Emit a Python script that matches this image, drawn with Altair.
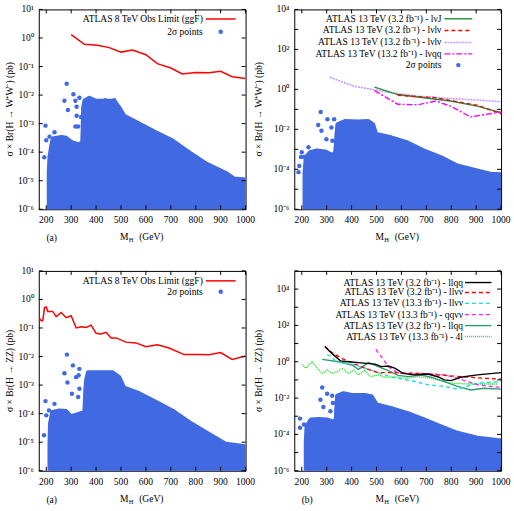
import altair as alt
import pandas as pd

# ---------------- data ----------------
# Panel (a) top: H -> WW, 8 TeV
ww8_limit_mh = [300, 353, 406, 453, 500, 546, 600, 646, 700, 746, 800, 853, 900, 946, 1000]
ww8_limit = [1.32, 0.60, 0.56, 0.46, 0.32, 0.38, 0.26, 0.126, 0.089, 0.055, 0.062, 0.060, 0.068, 0.044, 0.038]
ww8_env_mh = [210, 213, 220, 226, 260, 280, 300, 327, 344, 346, 348, 353, 373, 400, 433, 473, 493, 513, 573, 640, 706, 773, 840, 920, 953, 1000]
ww8_env = [1.9e-5, 6.9e-5, 1.7e-4, 3.0e-4, 3.4e-4, 3.2e-4, 2.3e-4, 1.9e-4, 2.1e-4, 5.8e-4, 3.7e-3, 6.3e-3, 8.1e-3, 6.3e-3, 6.3e-3, 6.3e-3, 3.7e-3, 1.9e-3, 1.0e-3, 5.0e-4, 2.6e-4, 1.0e-4, 4.1e-5, 1.9e-5, 1.2e-5, 1.1e-5]
ww8_pts_mh = [282, 273, 287, 309, 333, 317, 322, 322, 340, 328, 317, 357, 197, 233, 200, 213, 192, 437, 473]
ww8_pts = [2.5e-2, 6.3e-3, 3.0e-3, 1.07e-2, 8.1e-3, 6.3e-3, 3.9e-3, 1.9e-3, 1.7e-3, 7.9e-4, 7.9e-4, 4.5e-4, 8.5e-4, 5.0e-4, 2.6e-4, 3.5e-4, 6.6e-5, 6.6e-3, 6.6e-3]

# Panel top right: H -> WW, 13 TeV
ww13_env_mh = [211, 216, 233, 260, 293, 313, 333, 336, 339, 343, 373, 426, 466, 486, 499, 559, 625, 691, 758, 824, 904, 957, 1000]
ww13_env = [6.0e-5, 4.1e-4, 7.1e-4, 8.7e-4, 7.9e-4, 5.9e-4, 5.5e-4, 1.26e-3, 4.8e-3, 1.8e-2, 2.6e-2, 2.5e-2, 2.6e-2, 1.8e-2, 5.8e-3, 4.0e-3, 2.2e-3, 8.7e-4, 4.1e-4, 1.55e-4, 8.9e-5, 6.0e-5, 5.6e-5]
ww13_pts_mh = [276, 266, 279, 303, 319, 299, 323, 330, 200, 190, 209, 227, 197, 187]
ww13_pts = [7.4e-2, 1.66e-2, 8.5e-3, 3.2e-2, 1.23e-2, 3.2e-3, 2.7e-3, 3.2e-2, 7.1e-4, 1.45e-4, 4.1e-4, 1.26e-3, 4.1e-4, 7.2e-5]
lvJ_mh = [492, 585, 691, 797, 904, 1000]
lvJ = [1.29, 0.55, 0.38, 0.26, 0.145, 0.068]
lvlv32_mh = [585, 691, 738, 797, 904, 1000]
lvlv32 = [0.51, 0.41, 0.38, 0.28, 0.16, 0.060]
lvlv132_mh = [313, 412, 485, 559, 665, 798, 930, 1000]
lvlv132 = [4.0, 1.41, 0.98, 0.68, 0.46, 0.35, 0.28, 0.24]
lvqq_mh = [492, 585, 665, 738, 797, 877, 1000]
lvqq = [0.87, 0.18, 0.17, 0.26, 0.145, 0.042, 0.074]

# Panel (a) bottom: H -> ZZ, 8 TeV
zz8_limit_mh = [170, 180, 186, 193, 200, 206, 226, 240, 260, 280, 300, 320, 340, 360, 380, 400, 420, 440, 460, 480, 520, 560, 600, 646, 693, 753, 813, 853, 900, 946, 1000]
zz8_limit = [0.23, 0.18, 0.18, 0.52, 0.55, 0.38, 0.38, 0.25, 0.35, 0.23, 0.27, 0.10, 0.11, 0.105, 0.126, 0.065, 0.062, 0.071, 0.045, 0.045, 0.032, 0.030, 0.022, 0.026, 0.020, 0.0117, 0.0117, 0.0115, 0.0138, 0.0079, 0.0105]
zz8_env_mh = [213, 215, 224, 253, 280, 300, 333, 353, 355, 357, 360, 367, 400, 467, 493, 513, 573, 640, 706, 773, 840, 920, 1000]
zz8_env = [8.9e-6, 4.5e-5, 1.15e-4, 1.3e-4, 1.23e-4, 8.1e-5, 1.0e-4, 1.15e-4, 2.95e-4, 7.4e-4, 1.5e-3, 2.8e-3, 2.8e-3, 2.8e-3, 1.9e-3, 8.1e-4, 5.2e-4, 2.6e-4, 1.3e-4, 5.1e-5, 2.3e-5, 8.9e-6, 7.2e-6]
zz8_pts_mh = [283, 273, 285, 307, 333, 330, 320, 303, 333, 328, 197, 200, 233, 211, 191]
zz8_pts = [1.17e-2, 2.6e-3, 1.23e-3, 4.9e-3, 3.7e-3, 2.2e-3, 1.9e-3, 5.0e-4, 7.4e-4, 3.8e-4, 2.75e-4, 8.7e-5, 2.2e-4, 1.3e-4, 1.74e-5]

# Panel (b): H -> ZZ, 13 TeV
zz13_env_mh = [216, 219, 236, 269, 302, 322, 335, 338, 340, 342, 368, 401, 454, 481, 501, 560, 626, 693, 759, 825, 905, 958, 1000]
zz13_env = [3.5e-5, 2.8e-4, 6.6e-4, 7.1e-4, 6.6e-4, 5.4e-4, 4.7e-4, 1.5e-3, 5.4e-3, 1.35e-2, 1.86e-2, 1.5e-2, 1.5e-2, 1.23e-2, 4.4e-3, 2.8e-3, 1.5e-3, 6.6e-4, 2.8e-4, 1.23e-4, 6.6e-5, 5.4e-5, 4.7e-5]
zz13_pts_mh = [282, 275, 287, 302, 322, 325, 315, 339, 193, 193, 209]
zz13_pts = [3.8e-2, 8.1e-3, 3.2e-3, 1.74e-2, 1.35e-2, 5.4e-3, 1.86e-3, 2.3e-3, 7.4e-4, 2.3e-4, 3.5e-4]
llqq_mh = [293, 322, 355, 388, 428, 461, 494, 520, 547, 573, 607, 653, 706, 746, 772, 799, 838, 905, 1000]
llqq = [6.6, 2.8, 1.12, 1.0, 0.89, 0.81, 0.74, 0.54, 0.58, 0.44, 0.23, 0.19, 0.21, 0.15, 0.10, 0.091, 0.14, 0.19, 0.25]
llvv32_mh = [293, 322, 362, 401, 454, 507, 560, 666, 799, 931, 1000]
llvv32 = [7.1, 3.1, 1.5, 0.89, 0.44, 0.25, 0.25, 0.23, 0.166, 0.123, 0.11]
llvv133_mh = [302, 322, 335, 362, 401, 454, 507, 560, 640, 706, 772, 825, 905, 1000]
llvv133 = [2.5, 1.86, 1.0, 0.89, 0.74, 0.44, 0.25, 0.141, 0.091, 0.054, 0.044, 0.031, 0.066, 0.081]
qqvv_mh = [497, 520, 547, 587, 640, 693, 772, 825, 905, 1000]
qqvv = [4.7, 1.86, 0.54, 0.23, 0.21, 0.23, 0.19, 0.123, 0.054, 0.038]
llqq2_mh = [282, 348, 401, 428, 468, 507, 547, 587, 626, 679, 719, 772, 825, 878, 931, 1000]
llqq2 = [1.35, 1.0, 0.66, 0.38, 0.89, 0.54, 0.32, 0.178, 0.151, 0.186, 0.141, 0.081, 0.044, 0.028, 0.035, 0.031]
fourl_mh = [200, 216, 242, 262, 282, 302, 322, 342, 362, 388, 408, 428, 454, 474, 507, 534, 573, 613, 666, 719, 759, 799, 865, 931, 984]
fourl = [0.74, 0.44, 1.0, 0.44, 0.23, 0.35, 0.23, 0.28, 0.44, 0.23, 0.35, 0.19, 0.35, 0.15, 0.19, 0.14, 0.15, 0.123, 0.15, 0.123, 0.091, 0.066, 0.060, 0.060, 0.060]

x_ticks = [200, 300, 400, 500, 600, 700, 800, 900, 1000]

# ---------------- style ----------------
BLUE = "#4169e1"
FONT = "Liberation Serif"
W, H = 208, 201
FS = 9.6
SUP = {-6: "⁻⁶", -5: "⁻⁵", -4: "⁻⁴", -3: "⁻³", -2: "⁻²", -1: "⁻¹",
       0: "⁰", 1: "¹", 2: "²", 3: "³", 4: "⁴", 5: "⁵"}


def txt(label, x, y, align="left", size=FS, baseline="middle", angle=0):
    kw = dict(align=align, baseline=baseline, font=FONT, fontSize=size, color="black")
    if angle:
        kw["angle"] = angle
    return alt.Chart(pd.DataFrame({"t": [label]})).mark_text(**kw).encode(
        x=alt.value(x), y=alt.value(y), text="t:N")


def panel(ylo, yhi, lstep, env_mh, env_v, pts_mh, pts_v, lines, legend, ytitle,
          tag, title_x, leg_tx, leg_x1, leg_x2, leg_y):
    xs = alt.Scale(domain=[170, 1000], nice=False, zero=False)
    ys = alt.Scale(type="log", domain=[10.0 ** ylo, 10.0 ** yhi], nice=False)
    X = lambda f="mh": alt.X(f + ":Q", scale=xs, axis=None)
    Y = lambda f="v": alt.Y(f + ":Q", scale=ys, axis=None)
    env = pd.DataFrame({"mh": env_mh, "v": env_v})
    env["floor"] = 10.0 ** ylo
    layers = [
        alt.Chart(env).mark_area(fill=BLUE, stroke=BLUE, strokeWidth=4, strokeJoin="round",
                                 fillOpacity=1, clip=True).encode(
            x=X(), y=Y(), y2="floor:Q"),
        alt.Chart(pd.DataFrame({"mh": pts_mh, "v": pts_v})).mark_circle(
            size=20, color=BLUE, opacity=1, clip=True).encode(x=X(), y=Y()),
    ]
    for mh, v, color, width, dash in lines:
        kw = dict(color=color, strokeWidth=width, clip=True)
        if dash:
            kw["strokeDash"] = dash
        layers.append(alt.Chart(pd.DataFrame({"mh": mh, "v": v})).mark_line(**kw).encode(
            x=X(), y=Y()))
    # inward ticks on all four sides
    ydec = pd.DataFrame({"v": [10.0 ** e for e in range(ylo, yhi + 1)]})
    xdf = pd.DataFrame({"mh": x_ticks, "lab": [str(t) for t in x_ticks]})
    for a, b in [(0, 4), (W - 4, W)]:
        layers.append(alt.Chart(ydec).mark_rule(color="black", strokeWidth=1).encode(
            y=Y(), x=alt.value(a), x2=alt.value(b)))
    for a, b in [(H - 4, H), (0, 4)]:
        layers.append(alt.Chart(xdf).mark_rule(color="black", strokeWidth=1).encode(
            x=X(), y=alt.value(a), y2=alt.value(b)))
    # tick labels
    exps = list(range(ylo, yhi + 1, lstep))
    ylab = pd.DataFrame({"v": [10.0 ** e for e in exps], "lab": ["10" + SUP[e] for e in exps]})
    layers.append(alt.Chart(ylab).mark_text(align="right", baseline="middle", font=FONT,
                                            fontSize=FS, color="black").encode(
        y=Y(), x=alt.value(-5), text="lab:N"))
    layers.append(alt.Chart(xdf).mark_text(align="center", baseline="middle", font=FONT,
                                           fontSize=FS, color="black").encode(
        x=X(), y=alt.value(H + 11), text="lab:N"))
    # y title
    layers.append(txt(ytitle, title_x, H / 2, align="center", angle=270))
    # legend
    for i, (label, kind, color, width, dash) in enumerate(legend):
        yy = leg_y[i]
        layers.append(txt(label, leg_tx, yy, align="right"))
        if kind == "line":
            kw = dict(color=color, strokeWidth=width)
            if dash:
                kw["strokeDash"] = dash
            layers.append(alt.Chart(pd.DataFrame({"a": [0]})).mark_rule(**kw).encode(
                x=alt.value(leg_x1), x2=alt.value(leg_x2), y=alt.value(yy)))
        else:
            layers.append(alt.Chart(pd.DataFrame({"a": [0]})).mark_circle(
                size=20, color=BLUE, opacity=1).encode(
                x=alt.value((leg_x1 + leg_x2) / 2), y=alt.value(yy)))
    # x title with subscript
    layers.append(txt("M", 90.3, H + 28, align="right"))
    layers.append(txt("H", 90.6, H + 31, size=6.5))
    layers.append(txt("(GeV)", 101, H + 28))
    if tag:
        layers.append(txt(tag, 13, H + 29, align="center"))
    return alt.layer(*layers).properties(width=W, height=H)


WW_T = "σ × Br(H → W⁺W⁻)  (pb)"
ZZ_T = "σ × Br(H → ZZ)  (pb)"

p1 = panel(-6, 1, 1, ww8_env_mh, ww8_env, ww8_pts_mh, ww8_pts,
           [(ww8_limit_mh, ww8_limit, "#ff0000", 1.5, None)],
           [("ATLAS 8 TeV Obs Limit (ggF)", "line", "#ff0000", 1.5, None),
            ("2σ points", "dot", BLUE, 1, None)],
           WW_T, "(a)", -29, 165, 168, 198, [9.6, 22.5])

p2 = panel(-6, 4, 2, ww13_env_mh, ww13_env, ww13_pts_mh, ww13_pts,
           [(lvlv132_mh, lvlv132, "#c896ff", 1.6, [2, 1]),
            (lvJ_mh, lvJ, "#1e8c3a", 1.4, None),
            (lvlv32_mh, lvlv32, "#ff0000", 1.4, [4, 3]),
            (lvqq_mh, lvqq, "#ff00ff", 1.4, [6, 2, 2, 2])],
           [("ATLAS 13 TeV (3.2 fb⁻¹) - lνJ", "line", "#1e8c3a", 1.4, None),
            ("ATLAS 13 TeV (3.2 fb⁻¹) - lνlν", "line", "#ff0000", 1.4, [4, 3]),
            ("ATLAS 13 TeV (13.2 fb⁻¹) - lνlν", "line", "#c896ff", 1.6, [2, 1]),
            ("ATLAS 13 TeV (13.2 fb⁻¹) - lνqq", "line", "#ff00ff", 1.4, [6, 2, 2, 2]),
            ("2σ points", "dot", BLUE, 1, None)],
           WW_T, None, -35, 148, 151, 179, [9.4, 21.2, 33.2, 44.7, 56])

p3 = panel(-6, 1, 1, zz8_env_mh, zz8_env, zz8_pts_mh, zz8_pts,
           [(zz8_limit_mh, zz8_limit, "#ff0000", 1.5, None)],
           [("ATLAS 8 TeV Obs Limit (ggF)", "line", "#ff0000", 1.5, None),
            ("2σ points", "dot", BLUE, 1, None)],
           ZZ_T, "(a)", -29, 165, 168, 198, [10, 21])

p4 = panel(-6, 5, 2, zz13_env_mh, zz13_env, zz13_pts_mh, zz13_pts,
           [(fourl_mh, fourl, "#22dd22", 1.4, [1, 1]),
            (llqq2_mh, llqq2, "#2e9e6e", 1.4, None),
            (llvv133_mh, llvv133, "#22dddd", 1.4, [4, 3]),
            (qqvv_mh, qqvv, "#ff22ff", 1.4, [4, 3]),
            (llvv32_mh, llvv32, "#ff0000", 1.4, [4, 3]),
            (llqq_mh, llqq, "#000000", 1.4, None)],
           [("ATLAS 13 TeV (3.2 fb⁻¹) - llqq", "line", "#000000", 1.4, None),
            ("ATLAS 13 TeV (3.2 fb⁻¹) - llνν", "line", "#ff0000", 1.4, [4, 3]),
            ("ATLAS 13 TeV (13.3 fb⁻¹) - llνν", "line", "#22dddd", 1.4, [4, 3]),
            ("ATLAS 13 TeV (13.3 fb⁻¹) - qqνν", "line", "#ff22ff", 1.4, [4, 3]),
            ("ATLAS 13 TeV (3.2 fb⁻¹) - llqq", "line", "#2e9e6e", 1.4, None),
            ("ATLAS 13 TeV (13.3 fb⁻¹) - 4l", "line", "#22dd22", 1.4, [1, 1])],
           ZZ_T, "(b)", -35, 169.7, 171.7, 198.3, [11.7, 21.7, 32.7, 44, 55, 66])

top = alt.hconcat(p1, p2, spacing=49, bounds="flush")
bottom = alt.hconcat(p3, p4, spacing=49, bounds="flush")
chart = alt.vconcat(top, bottom, spacing=21).properties(
    padding={"left": 4, "top": 2, "right": 2, "bottom": 2}, background="white"
).configure_view(stroke="black", strokeWidth=1)

chart.save("out.html", embed_options={"renderer": "svg", "actions": False})
